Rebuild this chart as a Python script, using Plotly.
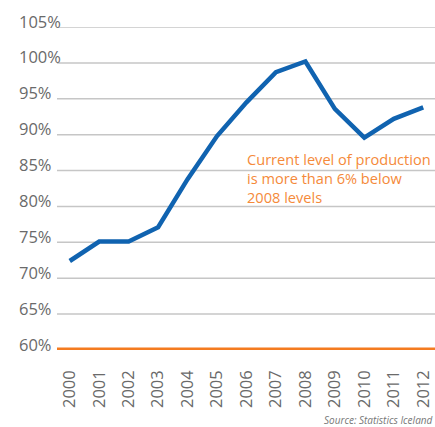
import plotly.graph_objects as go

years = list(range(2000, 2013))
index_values = [72.4, 75.1, 75.1, 77.1, 83.8, 89.8, 94.5, 98.7, 100.2, 93.6, 89.6, 92.2, 93.8]
y_ticks = [60, 65, 70, 75, 80, 85, 90, 95, 100, 105]
y_tick_labels = [f"{v}%" for v in y_ticks]
x_tick_labels = [str(y) for y in years]
note_text = "Current level of production<br>is more than 6% below<br>2008 levels"
source_text = "Source: Statistics Iceland"

GRAY = "#6a6a6a"
ORANGE = "#F47B20"
BLUE = "#1063B0"
FONT = "Open Sans"

fig = go.Figure()
fig.add_trace(go.Scatter(
    x=years, y=index_values, mode="lines",
    line=dict(color=BLUE, width=4.5), hoverinfo="skip", showlegend=False,
))

for v in y_ticks[1:]:
    fig.add_shape(type="line", xref="paper", x0=0, x1=1, yref="y", y0=v, y1=v,
                  line=dict(color="#c6c6c6", width=1.5), layer="below")
fig.add_shape(type="line", xref="paper", x0=0, x1=1, yref="y", y0=60, y1=60,
              line=dict(color=ORANGE, width=5), layer="above")

annotations = []
for v, lab in zip(y_ticks, y_tick_labels):
    annotations.append(dict(
        xref="paper", x=0, xanchor="left", xshift=-40,
        yref="y", y=v, yanchor="middle", yshift=6,
        text=lab, showarrow=False,
        font=dict(family=FONT, size=16.5, color=GRAY),
    ))
annotations.append(dict(
    xref="paper", x=0, xanchor="left", xshift=188,
    yref="y", y=83.9, yanchor="middle",
    text=note_text, showarrow=False, align="left",
    font=dict(family=FONT, size=14.6, color="#F58A3A"),
))
annotations.append(dict(
    xref="paper", x=1, xanchor="right", yref="paper", y=-0.217, yanchor="middle",
    text=f"<i>{source_text}</i>", showarrow=False,
    font=dict(family=FONT, size=10, color="#777777"),
))

fig.update_layout(
    width=435, height=427,
    margin=dict(l=57, r=0, t=27, b=77, autoexpand=False),
    paper_bgcolor="white", plot_bgcolor="white",
    annotations=annotations,
    xaxis=dict(
        range=[1999.567, 2012.4], tickmode="array", tickvals=years,
        ticktext=x_tick_labels, tickangle=-90, showgrid=False, zeroline=False,
        showline=False, ticks="", ticklen=0, automargin=False,
        ticklabelstandoff=16, ticklabeloverflow="allow",
        tickfont=dict(family=FONT, size=16.5, color=GRAY),
    ),
    yaxis=dict(
        range=[60, 105], showticklabels=False, showgrid=False, zeroline=False,
        showline=False, ticks="", automargin=False,
    ),
)

fig.write_html(
    "out.html",
    config={"displayModeBar": False},
    post_script="document.body.style.margin='0';document.body.style.overflow='hidden';",
)
